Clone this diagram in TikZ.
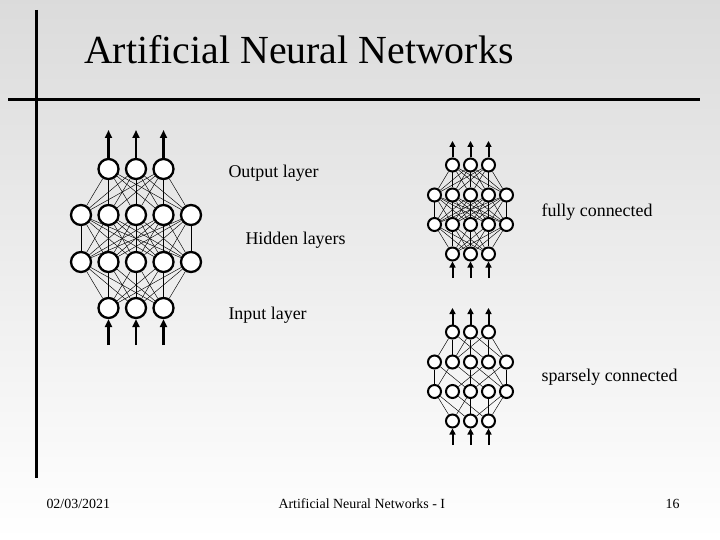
\documentclass[tikz,border=0pt]{standalone}
\usepackage{fontspec}
\setmainfont{Liberation Serif}
\usetikzlibrary{arrows.meta}

\begin{document}
\begin{tikzpicture}[x=1bp, y=-1bp,
  bigunit/.style={circle, draw, line width=2.3bp, minimum size=20bp,
    inner sep=0pt, fill=white},
  smallunit/.style={circle, draw, line width=2bp, minimum size=13bp,
    inner sep=0pt, fill=white},
  link/.style={line width=0.45bp},
  bigarrow/.style={line width=2.4bp, -{Triangle[length=8bp, width=7bp]}},
  smallarrow/.style={line width=2bp, -{Triangle[length=6bp, width=6bp]}},
  txt/.style={anchor=base west, font=\fontsize{18}{21}\selectfont},
  foot/.style={anchor=base west, font=\fontsize{14}{16}\selectfont}]
\shade[top color=black!14, bottom color=white] (0,0) rectangle (720,540);
% title bar
\coordinate (vtop) at (36,10);
\coordinate (vbot) at (36,478);
\coordinate (hl) at (8,100);
\coordinate (hr) at (700,100);
\draw[line width=3bp] (vtop) -- (vbot);
\draw[line width=3bp] (hl) -- (hr);
\node[anchor=base west, font=\fontsize{40}{46}\selectfont, inner xsep=0pt]
  (title) at (84,64) {Artificial Neural Networks};
% big network
\foreach \i/\x in {1/108.5, 2/136, 3/163.5} {
  \node[bigunit] (bo\i) at (\x,169) {};
  \node[bigunit] (bi\i) at (\x,308) {};
}
\foreach \i/\x in {1/81, 2/108.5, 3/136, 4/163.5, 5/191} {
  \node[bigunit] (ba\i) at (\x,215) {};
  \node[bigunit] (bb\i) at (\x,262) {};
}
\foreach \i in {1,...,5} {
  \foreach \j in {1,2,3} {
    \draw[link] (bo\j) -- (ba\i);
    \draw[link] (bb\i) -- (bi\j);
  }
  \foreach \j in {1,...,5}
    \draw[link] (ba\i) -- (bb\j);
}
\foreach \i/\x in {1/108.5, 2/136, 3/163.5} {
  \coordinate (bt\i) at (\x,130);
  \coordinate (bf\i) at (\x,345);
  \draw[bigarrow] (bo\i) -- (bt\i);
  \draw[bigarrow] (bf\i) -- (bi\i);
}
% small networks: f = fully, s = sparsely connected
\foreach \n/\y in {f/165, s/332} {
  \foreach \i/\x in {1/452.5, 2/470.5, 3/488.5} {
    \node[smallunit] (\n o\i) at (\x,\y) {};
    \node[smallunit] (\n i\i) at (\x,\y+89) {};
    \coordinate (\n t\i) at (\x,\y-24);
    \coordinate (\n f\i) at (\x,\y+113);
    \draw[smallarrow] (\n o\i) -- (\n t\i);
    \draw[smallarrow] (\n f\i) -- (\n i\i);
  }
  \foreach \i/\x in {1/434.5, 2/452.5, 3/470.5, 4/488.5, 5/506.5} {
    \node[smallunit] (\n a\i) at (\x,\y+30) {};
    \node[smallunit] (\n b\i) at (\x,\y+59.5) {};
  }
}
\foreach \i in {1,...,5} {
  \foreach \j in {1,2,3} {
    \draw[link] (fo\j) -- (fa\i);
    \draw[link] (fb\i) -- (fi\j);
  }
  \foreach \j in {1,...,5}
    \draw[link] (fa\i) -- (fb\j);
}
\foreach \j/\i in {1/1, 1/2, 1/4, 2/2, 2/3, 2/5, 3/2, 3/4, 3/5}
  \draw[link] (so\j) -- (sa\i);
\foreach \i/\j in {1/1, 1/3, 2/1, 2/4, 3/3, 3/5, 4/2, 4/5, 5/5, 5/3}
  \draw[link] (sa\i) -- (sb\j);
\foreach \i/\j in {1/1, 1/2, 2/3, 3/1, 3/2, 4/3, 5/2, 5/3}
  \draw[link] (sb\i) -- (si\j);
% labels
\node[txt] (outl) at (225,178) {Output layer};
\node[txt] (hidl) at (242,245) {Hidden layers};
\node[txt] (inl) at (225,319) {Input layer};
\node[txt] (fully) at (538,217) {fully connected};
\node[txt] (sparse) at (538,381) {sparsely connected};
% footer
\node[foot] (date) at (43,508) {02/03/2021};
\node[foot] (course) at (275,508) {Artificial Neural Networks - I};
\node[foot] (page) at (662,508) {16};
\end{tikzpicture}
\end{document}
